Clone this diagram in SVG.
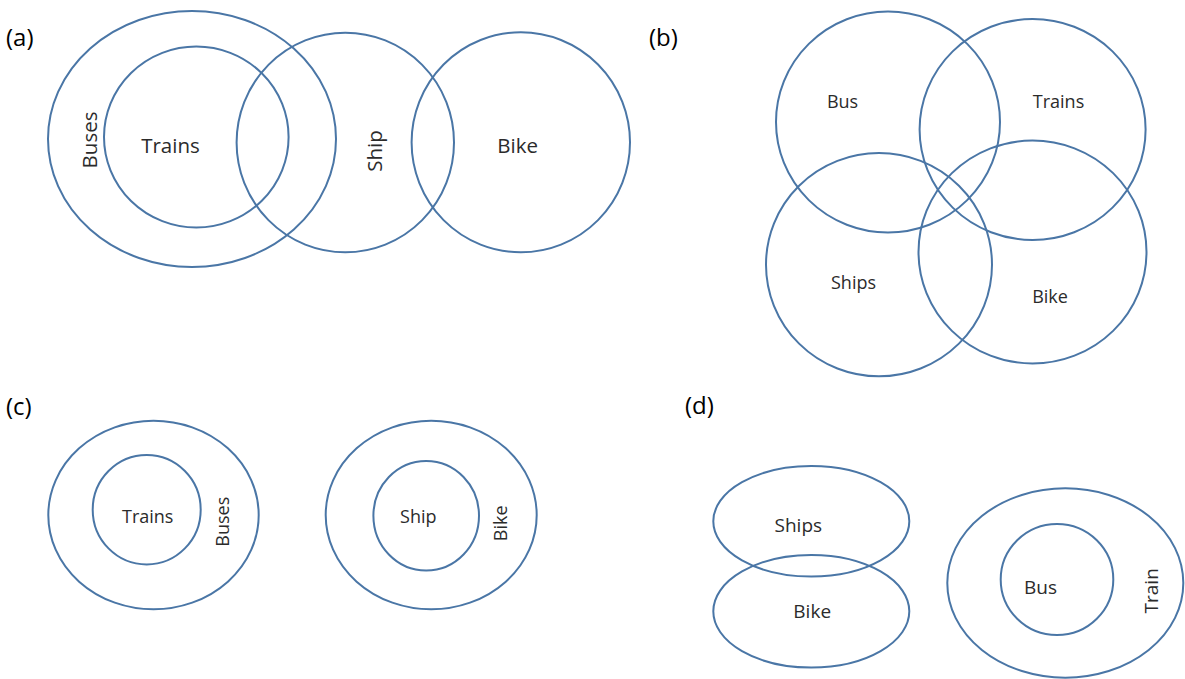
<svg xmlns="http://www.w3.org/2000/svg" width="1185" height="679" viewBox="0 0 1185 679">
  <style>
    .set { fill: none; stroke: #4a76a6; stroke-width: 2; }
    .lbl { font-family: "Open Sans", "Liberation Sans", sans-serif; fill: #2b2b2b; text-anchor: middle; }
    .panel { font-family: "Open Sans", "Liberation Sans", sans-serif; font-size: 24px; fill: #000000; }
    .a { font-size: 20.5px; }
    .b { font-size: 18px; }
    .c { font-size: 18px; }
    .d { font-size: 19px; }
  </style>
  <rect width="1185" height="679" fill="#ffffff"/>

  <!-- panel captions -->
  <g id="captions">
    <text class="panel" x="6" y="46">(a)</text>
    <text class="panel" x="649" y="46">(b)</text>
    <text class="panel" x="6" y="415">(c)</text>
    <text class="panel" x="685" y="414">(d)</text>
  </g>

  <!-- (a) Buses contains Trains; Ship overlaps both; Bike overlaps Ship -->
  <g id="a-buses">
    <ellipse class="set" cx="192" cy="139" rx="144" ry="128"/>
    <text class="lbl a" transform="translate(97,140) rotate(-90)">Buses</text>
  </g>
  <g id="a-trains">
    <ellipse class="set" cx="196.3" cy="137" rx="92.3" ry="90.5"/>
    <text class="lbl a" x="170.5" y="152.5">Trains</text>
  </g>
  <g id="a-ship">
    <ellipse class="set" cx="345.3" cy="142.5" rx="108.7" ry="109.8"/>
    <text class="lbl a" transform="translate(381.5,151) rotate(-90)">Ship</text>
  </g>
  <g id="a-bike">
    <ellipse class="set" cx="520.8" cy="142.3" rx="109.2" ry="110"/>
    <text class="lbl a" x="517.7" y="152.7">Bike</text>
  </g>

  <!-- (b) four mutually overlapping sets -->
  <g id="b-bus">
    <ellipse class="set" cx="888" cy="122" rx="112" ry="110.5"/>
    <text class="lbl b" x="842.5" y="107.5">Bus</text>
  </g>
  <g id="b-trains">
    <ellipse class="set" cx="1032.6" cy="129.5" rx="113" ry="110.5"/>
    <text class="lbl b" x="1058.5" y="107.5">Trains</text>
  </g>
  <g id="b-ships">
    <ellipse class="set" cx="879" cy="264.7" rx="113" ry="111.6"/>
    <text class="lbl b" x="853.5" y="289">Ships</text>
  </g>
  <g id="b-bike">
    <ellipse class="set" cx="1032.5" cy="252" rx="114" ry="111.5"/>
    <text class="lbl b" x="1050" y="302.5">Bike</text>
  </g>

  <!-- (c) two separate nested pairs -->
  <g id="c-buses">
    <ellipse class="set" cx="153.5" cy="515" rx="105.2" ry="94.3"/>
    <text class="lbl c" transform="translate(229,521.7) rotate(-90)">Buses</text>
  </g>
  <g id="c-trains">
    <ellipse class="set" cx="146.7" cy="509.7" rx="54" ry="54.7"/>
    <text class="lbl c" x="147.7" y="522.7">Trains</text>
  </g>
  <g id="c-bike">
    <ellipse class="set" cx="431.2" cy="515" rx="105.5" ry="94.3"/>
    <text class="lbl c" transform="translate(507,523.3) rotate(-90)">Bike</text>
  </g>
  <g id="c-ship">
    <ellipse class="set" cx="426.2" cy="515.8" rx="52.8" ry="54.8"/>
    <text class="lbl c" x="418.3" y="522.5">Ship</text>
  </g>

  <!-- (d) Ships overlaps Bike; Train contains Bus -->
  <g id="d-ships">
    <ellipse class="set" cx="811.3" cy="521.3" rx="98" ry="55.3"/>
    <text class="lbl d" x="798.3" y="531.7">Ships</text>
  </g>
  <g id="d-bike">
    <ellipse class="set" cx="811.3" cy="611.3" rx="98" ry="56.3"/>
    <text class="lbl d" x="812.2" y="618.3">Bike</text>
  </g>
  <g id="d-train">
    <ellipse class="set" cx="1065.3" cy="583" rx="118" ry="94.7"/>
    <text class="lbl d" transform="translate(1157.5,590.8) rotate(-90)">Train</text>
  </g>
  <g id="d-bus">
    <ellipse class="set" cx="1057" cy="579.5" rx="56.3" ry="55.5"/>
    <text class="lbl d" x="1040.5" y="594">Bus</text>
  </g>

  <!-- no connectors in this figure -->
  <g id="connectors"/>
</svg>
